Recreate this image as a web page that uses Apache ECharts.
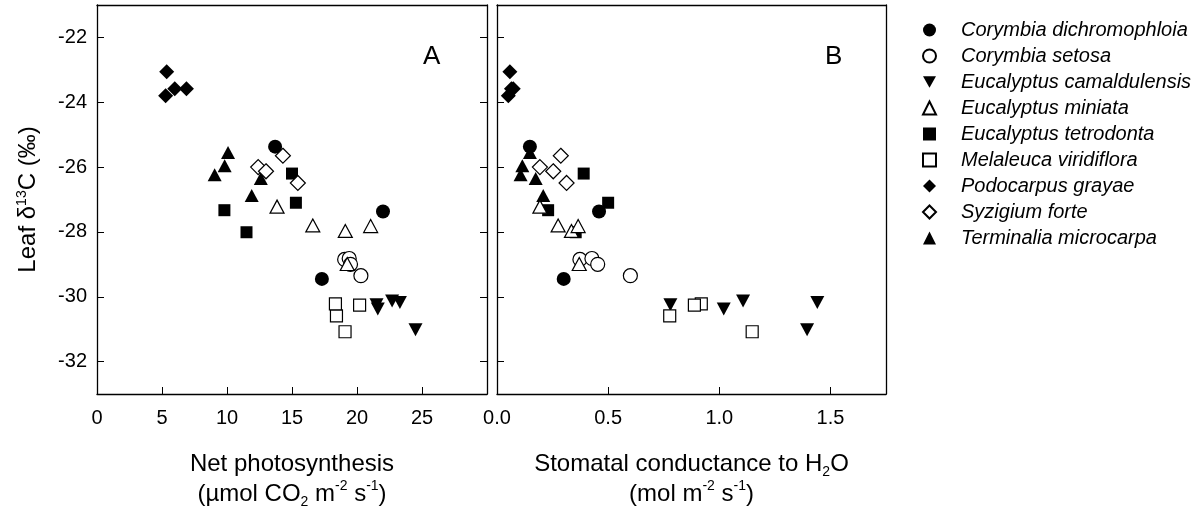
<!DOCTYPE html>
<html>
<head>
<meta charset="utf-8">
<script src="https://cdn.jsdelivr.net/npm/echarts@6/dist/echarts.min.js"></script>
<style>
html,body{margin:0;padding:0;background:#fff;}
#chart{width:1196px;height:524px;}
</style>
</head>
<body>
<div id="chart"></div>
<script>
// ---- Data ----
// Each species: net photosynthesis A, stomatal conductance gs, leaf d13C (shared by both panels)
const speciesNames = [
  'Corymbia dichromophloia', 'Corymbia setosa', 'Eucalyptus camaldulensis',
  'Eucalyptus miniata', 'Eucalyptus tetrodonta', 'Melaleuca viridiflora',
  'Podocarpus grayae', 'Syzigium forte', 'Terminalia microcarpa'
];
const cdA   = [13.7, 22.0, 17.3];
const cdGs  = [0.148, 0.459, 0.300];
const cdD   = [-25.37, -27.37, -29.45];

const csA   = [19.05, 19.4, 19.5, 20.3];
const csGs  = [0.373, 0.427, 0.453, 0.600];
const csD   = [-28.85, -28.82, -29.0, -29.35];

const ecA   = [24.5, 21.6, 21.5, 22.7, 23.3];
const ecGs  = [1.395, 1.020, 0.780, 1.107, 1.441];
const ecD   = [-31.02, -30.38, -30.25, -30.13, -30.18];

const emA   = [13.85, 16.6, 19.1, 21.05, 19.25];
const emGs  = [0.193, 0.275, 0.335, 0.365, 0.370];
const emD   = [-27.22, -27.8, -27.97, -27.82, -28.99];

const etA   = [15.0, 15.3, 9.8, 11.5];
const etGs  = [0.390, 0.500, 0.230, 0.354];
const etD   = [-26.2, -27.1, -27.33, -28.01];

const mvA   = [19.08, 18.42, 18.34, 20.2];
const mvGs  = [1.148, 0.777, 0.919, 0.888];
const mvD   = [-31.08, -30.59, -30.22, -30.26];

const pgA   = [5.36, 5.98, 6.88, 5.28];
const pgGs  = [0.058, 0.073, 0.065, 0.051];
const pgD   = [-23.06, -23.58, -23.58, -23.80];

const sfA   = [14.3, 12.4, 13.0, 15.45];
const sfGs  = [0.287, 0.193, 0.253, 0.313];
const sfD   = [-25.65, -26.0, -26.13, -26.49];

const tmA   = [10.08, 9.82, 9.05, 12.6, 11.9];
const tmGs  = [0.148, 0.114, 0.106, 0.174, 0.208];
const tmD   = [-25.55, -25.96, -26.24, -26.35, -26.88];

const xTicksA = [0, 5, 10, 15, 20, 25];
const xTicksB = ['0.0', '0.5', '1.0', '1.5'];
const yTicks  = [-32, -30, -28, -26, -24, -22];

// ---- Styling ----
const FONT = 'Liberation Sans, Arial, Helvetica, sans-serif';
const invTri = 'path://M0,0 L10,0 L5,8.66 Z';
const groups = [
  {A: cdA, G: cdGs, D: cdD, symbol: 'circle',   size: 14, open: false},
  {A: csA, G: csGs, D: csD, symbol: 'circle',   size: 14, open: true},
  {A: ecA, G: ecGs, D: ecD, symbol: invTri,     size: [14, 13], open: false},
  {A: emA, G: emGs, D: emD, symbol: 'triangle', size: [14, 13], open: true},
  {A: etA, G: etGs, D: etD, symbol: 'rect',     size: 12, open: false},
  {A: mvA, G: mvGs, D: mvD, symbol: 'rect',     size: 12, open: true},
  {A: pgA, G: pgGs, D: pgD, symbol: 'diamond',  size: 15, open: false},
  {A: sfA, G: sfGs, D: sfD, symbol: 'diamond',  size: 15, open: true},
  {A: tmA, G: tmGs, D: tmD, symbol: 'triangle', size: [14, 13], open: false}
];

const series = [];
groups.forEach((g, i) => {
  const style = g.open
    ? {color: '#ffffff', borderColor: '#000000', borderWidth: 1.2, opacity: 1}
    : {color: '#000000', borderColor: '#000000', borderWidth: 0, opacity: 1};
  const common = {
    type: 'scatter', name: speciesNames[i], symbol: g.symbol, symbolSize: g.size,
    itemStyle: style, emphasis: {disabled: true}, z: g.open ? 3 : 2
  };
  series.push(Object.assign({}, common, {
    xAxisIndex: 0, yAxisIndex: 0, data: g.A.map((v, k) => [v, g.D[k]])
  }));
  series.push(Object.assign({}, common, {
    xAxisIndex: 2, yAxisIndex: 2, data: g.G.map((v, k) => [v, g.D[k]])
  }));
});

const lineStyle = {color: '#000', width: 1.3};
const tickIn = {show: true, inside: true, length: 7, lineStyle: {color: '#000', width: 1}};
const labelStyle = {color: '#000', fontSize: 20, fontFamily: FONT};

const rich = {
  t:   {fontSize: 24, fontFamily: FONT, color: '#000', lineHeight: 30},
  sup: {fontSize: 14, fontFamily: FONT, color: '#000', lineHeight: 16, verticalAlign: 'top'},
  sub: {fontSize: 14, fontFamily: FONT, color: '#000', lineHeight: 14, verticalAlign: 'bottom'}
};

const option = {
  backgroundColor: '#fff',
  animation: false,
  textStyle: {fontFamily: FONT},
  grid: [
    {left: 97, top: 5, width: 390, height: 389, show: false},
    {left: 497, top: 5, width: 389, height: 389, show: false}
  ],
  legend: {
    orient: 'vertical', left: 917, top: 15,
    itemWidth: 13, itemHeight: 13, itemGap: 6,
    selectedMode: false,
    textStyle: {fontSize: 20, fontStyle: 'italic', fontFamily: FONT, color: '#000', padding: [0, 0, 0, 20]},
    data: speciesNames.map((n, i) => ({name: n, icon: groups[i].symbol}))
  },
  xAxis: [
    {gridIndex: 0, type: 'value', position: 'bottom', min: 0, max: 30, interval: 5,
     axisLine: {show: true, onZero: false, lineStyle}, axisTick: tickIn,
     splitLine: {show: false},
     axisLabel: Object.assign({}, labelStyle, {margin: 14,
       formatter: v => xTicksA.indexOf(v) >= 0 ? String(v) : ''}),
     name: '{t|Net photosynthesis}\n{t|(µmol CO}{sub|2}{t| m}{sup|-2}{t| s}{sup|-1}{t|)}',
     nameLocation: 'middle', nameGap: 55, nameTextStyle: {rich}},
    {gridIndex: 0, type: 'value', position: 'top', min: 0, max: 30,
     axisLine: {show: true, onZero: false, lineStyle}, axisTick: {show: false},
     axisLabel: {show: false}, splitLine: {show: false}},
    {gridIndex: 1, type: 'value', position: 'bottom', min: 0, max: 1.75, interval: 0.5,
     axisLine: {show: true, onZero: false, lineStyle}, axisTick: tickIn,
     splitLine: {show: false},
     axisLabel: Object.assign({}, labelStyle, {margin: 14,
       formatter: v => { const s = v.toFixed(1); return (xTicksB.indexOf(s) >= 0 && v < 1.7) ? s : ''; }}),
     name: '{t|Stomatal conductance to H}{sub|2}{t|O}\n{t|(mol m}{sup|-2}{t| s}{sup|-1}{t|)}',
     nameLocation: 'middle', nameGap: 55, nameTextStyle: {rich}},
    {gridIndex: 1, type: 'value', position: 'top', min: 0, max: 1.75,
     axisLine: {show: true, onZero: false, lineStyle}, axisTick: {show: false},
     axisLabel: {show: false}, splitLine: {show: false}}
  ],
  yAxis: [
    {gridIndex: 0, type: 'value', position: 'left', min: -33, max: -21, splitNumber: 6,
     axisLine: {show: true, onZero: false, lineStyle}, axisTick: tickIn,
     splitLine: {show: false},
     axisLabel: Object.assign({}, labelStyle, {margin: 10,
       formatter: v => yTicks.indexOf(v) >= 0 ? String(v) : ''}),
     name: '{t|Leaf δ}{sup|13}{t|C (‰)}', nameLocation: 'middle', nameGap: 56,
     nameTextStyle: {rich: {
       t: {fontSize: 24, fontFamily: FONT, color: '#000', lineHeight: 26},
       sup: {fontSize: 14, fontFamily: FONT, color: '#000', lineHeight: 14, verticalAlign: 'top'}
     }}},
    {gridIndex: 0, type: 'value', position: 'right', min: -33, max: -21, splitNumber: 6,
     axisLine: {show: true, onZero: false, lineStyle}, axisTick: tickIn,
     axisLabel: {show: false}, splitLine: {show: false}},
    {gridIndex: 1, type: 'value', position: 'left', min: -33, max: -21, splitNumber: 6,
     axisLine: {show: true, onZero: false, lineStyle}, axisTick: tickIn,
     axisLabel: {show: false}, splitLine: {show: false}},
    {gridIndex: 1, type: 'value', position: 'right', min: -33, max: -21, splitNumber: 6,
     axisLine: {show: true, onZero: false, lineStyle}, axisTick: {show: false},
     axisLabel: {show: false}, splitLine: {show: false}}
  ],
  graphic: [
    {type: 'text', left: 423, top: 44, style: {text: 'A', fontSize: 26, fontFamily: FONT, fill: '#000'}},
    {type: 'text', left: 825, top: 44, style: {text: 'B', fontSize: 26, fontFamily: FONT, fill: '#000'}}
  ],
  series
};

const chart = echarts.init(document.getElementById('chart'), null, {renderer: 'canvas'});
chart.setOption(option);
</script>
</body>
</html>
